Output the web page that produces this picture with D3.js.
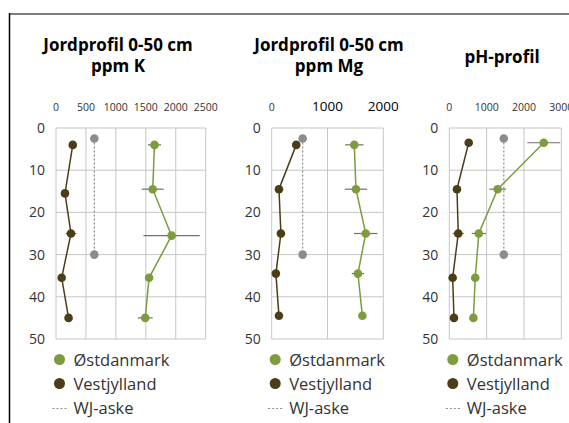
<!DOCTYPE html>
<html>
<head>
<meta charset="utf-8">
<script src="https://cdn.jsdelivr.net/npm/d3@7"></script>
<style>
  body { margin: 0; background: #fff; }
  svg { display: block; font-family: "Open Sans", "Noto Sans", sans-serif; }
</style>
</head>
<body>
<svg id="chart" width="569" height="423"></svg>
<script>
// depths (cm)
const depthA = [4, 15.5, 25, 35.5, 45]
const depthB = [4, 14.5, 25.5, 35.5, 45]
const depthMg = [4, 14.5, 25, 34.5, 44.5]
const depthPh = [3.5, 14.5, 25, 35.5, 45]
const ashDepth = [2.5, 30]

// ppm K
const vestK = [280, 150, 250, 95, 210]
const vestKErr = [0, 0, 90, 0, 0]
const ostK = [1645, 1615, 1930, 1555, 1490]
const ostKErr = [110, 185, 470, 0, 125]
const ashK = [640, 640]

// ppm Mg
const vestMg = [440, 130, 165, 75, 130]
const vestMgErr = [0, 0, 0, 0, 0]
const ostMg = [1480, 1510, 1685, 1545, 1625]
const ostMgErr = [165, 200, 210, 110, 0]
const ashMg = [555, 555]

// pH
const vestPh = [520, 205, 240, 90, 125]
const vestPhErr = [0, 0, 150, 0, 0]
const ostPh = [2530, 1295, 790, 695, 645]
const ostPhErr = [440, 225, 190, 0, 0]
const ashPh = [1460, 1460]

const legendLabels = ["Østdanmark", "Vestjylland", "WJ-aske"]

const green = "#7c9c3e"
const brown = "#4b3d17"
const ash = "#8c8c8c"
const grid = "#c6c6c6"

const panels = [
  { title: ["Jordprofil 0-50 cm", "ppm K"], cx: 118, left: 56, right: 205.7, max: 2500, step: 500,
    vest: vestK, vestErr: vestKErr, vestD: depthA, ost: ostK, ostErr: ostKErr, ostD: depthB, ash: ashK, bigTicks: false },
  { title: ["Jordprofil 0-50 cm", "ppm Mg"], cx: 329, left: 271.7, right: 383.3, max: 2000, step: 1000,
    vest: vestMg, vestErr: vestMgErr, vestD: depthMg, ost: ostMg, ostErr: ostMgErr, ostD: depthMg, ash: ashMg, bigTicks: true },
  { title: ["pH-profil"], cx: 502, left: 449.3, right: 561.3, max: 3000, step: 1000,
    vest: vestPh, vestErr: vestPhErr, vestD: depthPh, ost: ostPh, ostErr: ostPhErr, ostD: depthPh, ash: ashPh, bigTicks: false }
]

const svg = d3.select("#chart")

// frame
svg.append("line").attr("x1", 9).attr("x2", 569).attr("y1", 14).attr("y2", 14)
  .attr("stroke", "#7f7f7f").attr("stroke-width", 2)
svg.append("line").attr("x1", 9.5).attr("x2", 9.5).attr("y1", 13).attr("y2", 423)
  .attr("stroke", "#000").attr("stroke-width", 1.5)

const y = d3.scaleLinear().domain([0, 50]).range([128, 339])

panels.forEach(p => {
  const g = svg.append("g")
  const x = d3.scaleLinear().domain([0, p.max]).range([p.left, p.right])
  const xt = d3.range(0, p.max + 1, p.step)

  // title, one text per line
  const lines = p.title
  const base = lines.length === 2 ? 51 : 63
  g.append("g").selectAll("text").data(lines).join("text")
    .attr("x", p.cx).attr("y", (d, i) => base + i * 20.5)
    .attr("text-anchor", "middle").attr("font-weight", 700)
    .attr("font-size", 17).attr("fill", "#000")
    .text(d => d)

  // grid
  g.append("g").selectAll("line").data(xt).join("line")
    .attr("x1", d => x(d)).attr("x2", d => x(d)).attr("y1", y(0)).attr("y2", y(50))
    .attr("stroke", grid).attr("stroke-width", 1)
  g.append("g").selectAll("line").data(d3.range(0, 51, 10)).join("line")
    .attr("x1", p.left).attr("x2", p.right).attr("y1", d => y(d)).attr("y2", d => y(d))
    .attr("stroke", grid).attr("stroke-width", 1)

  // top axis labels
  g.append("g").selectAll("text").data(xt).join("text")
    .attr("x", d => x(d)).attr("y", 111).attr("text-anchor", "middle")
    .attr("font-size", d => (p.bigTicks && d > 0) ? 13.5 : 10.5)
    .attr("fill", d => (p.bigTicks && d > 0) ? "#000" : "#333")
    .text(d => d)

  // depth labels
  g.append("g").selectAll("text").data(d3.range(0, 51, 10)).join("text")
    .attr("x", p.left - 11).attr("y", d => y(d)).attr("dy", "0.35em")
    .attr("text-anchor", "end").attr("font-size", 14).attr("fill", "#333")
    .text(d => d)

  const line = d3.line().x(d => x(d[0])).y(d => y(d[1]))

  // ash
  const ashPts = p.ash.map((v, i) => [v, ashDepth[i]])
  g.append("path").attr("d", line(ashPts)).attr("fill", "none")
    .attr("stroke", ash).attr("stroke-width", 1.2).attr("stroke-dasharray", "2,2")

  // error bars
  const errs = p.ost.map((v, i) => [v, p.ostD[i], p.ostErr[i]])
    .concat(p.vest.map((v, i) => [v, p.vestD[i], p.vestErr[i]]))
    .filter(d => d[2] > 0)
  g.append("g").selectAll("line").data(errs).join("line")
    .attr("x1", d => x(d[0] - d[2])).attr("x2", d => x(d[0] + d[2]))
    .attr("y1", d => y(d[1])).attr("y2", d => y(d[1]))
    .attr("stroke", "#6f6f6f").attr("stroke-width", 1.2)

  const series = [
    { vals: p.vest, d: p.vestD, color: brown },
    { vals: p.ost, d: p.ostD, color: green }
  ]
  series.forEach(s => {
    const pts = s.vals.map((v, i) => [v, s.d[i]])
    g.append("path").attr("d", line(pts)).attr("fill", "none")
      .attr("stroke", s.color).attr("stroke-width", 1.5)
    g.append("g").selectAll("circle").data(pts).join("circle")
      .attr("cx", d => x(d[0])).attr("cy", d => y(d[1])).attr("r", 4.3)
      .attr("fill", s.color)
  })
  g.append("g").selectAll("circle").data(ashPts).join("circle")
    .attr("cx", d => x(d[0])).attr("cy", d => y(d[1])).attr("r", 4.3)
    .attr("fill", ash)

  // legend
  const lx = p.left + 3.5
  const leg = g.append("g")
  ;[green, brown].forEach((c, i) => {
    leg.append("circle").attr("cx", lx).attr("cy", 359.5 + i * 24).attr("r", 5.5).attr("fill", c)
  })
  leg.append("line").attr("x1", lx - 7).attr("x2", lx + 7.5).attr("y1", 408.5).attr("y2", 408.5)
    .attr("stroke", ash).attr("stroke-width", 1.2).attr("stroke-dasharray", "2,2")
  leg.selectAll("text").data(legendLabels).join("text")
    .attr("x", lx + 14).attr("y", (d, i) => 365.5 + i * 24)
    .attr("font-size", 16.5).attr("fill", "#333")
    .text(d => d)
})
</script>
</body>
</html>
